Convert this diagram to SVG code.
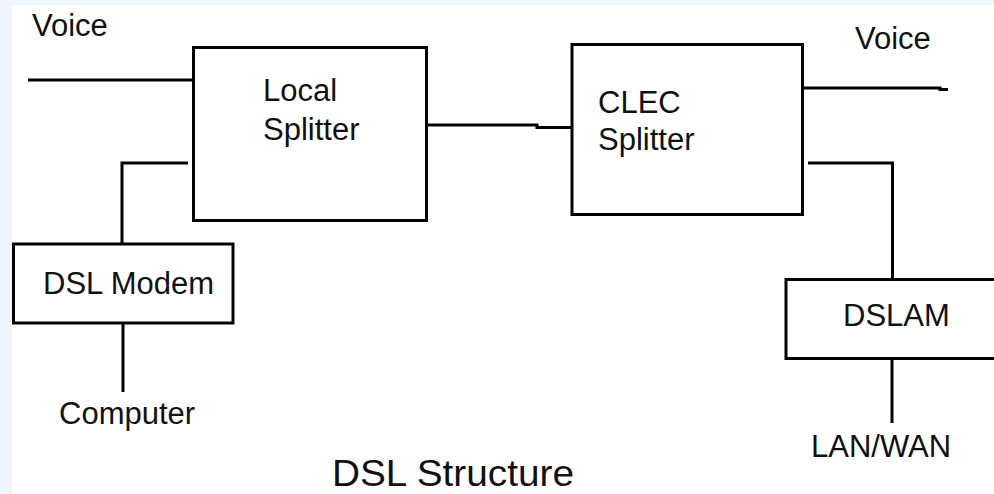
<svg xmlns="http://www.w3.org/2000/svg" width="994" height="494" viewBox="0 0 994 494">
<style>
.box{fill:#fff;stroke:#000;stroke-width:3}
.ln{fill:none;stroke:#000;stroke-width:3}
text{font-family:"Liberation Sans",Arial,sans-serif;font-size:31px;fill:#111}
.title{font-size:37px}
</style>
<rect x="0" y="0" width="994" height="494" fill="#fff"/>
<rect x="0" y="0" width="994" height="5" fill="#eef5fd"/>
<rect x="0" y="0" width="12" height="494" fill="#eef5fd"/>
<g id="connectors">
<line class="ln" x1="28" y1="80" x2="193" y2="80"/>
<polyline class="ln" points="188,163 122,163 122,244"/>
<line class="ln" x1="123" y1="323" x2="123" y2="392"/>
<polyline class="ln" points="427,125 537,125 537,127.5 572,127.5"/>
<polyline class="ln" points="803,88 940,88 940,89.5 948,89.5"/>
<polyline class="ln" points="808,163 892.5,163 892.5,279"/>
<line class="ln" x1="892" y1="359" x2="892" y2="423"/>
</g>
<g id="local-splitter">
<rect class="box" x="193.5" y="47.5" width="233" height="173"/>
<text x="263" y="101">Local</text>
<text x="263" y="140">Splitter</text>
</g>
<g id="clec-splitter">
<rect class="box" x="572" y="44.5" width="230.5" height="170"/>
<text x="598" y="113">CLEC</text>
<text x="598" y="150">Splitter</text>
</g>
<g id="dsl-modem">
<rect class="box" x="13.5" y="244" width="219.5" height="79"/>
<text x="43" y="294">DSL Modem</text>
</g>
<g id="dslam">
<rect class="box" x="786" y="279.5" width="230" height="79"/>
<text x="843" y="326">DSLAM</text>
</g>
<g id="voice-left"><text x="32" y="36">Voice</text></g>
<g id="voice-right"><text x="855" y="49">Voice</text></g>
<g id="computer"><text x="59" y="424">Computer</text></g>
<g id="lanwan"><text x="811" y="457">LAN/WAN</text></g>
<g id="title"><text class="title" x="332" y="486" textLength="242" lengthAdjust="spacingAndGlyphs">DSL Structure</text></g>
</svg>
